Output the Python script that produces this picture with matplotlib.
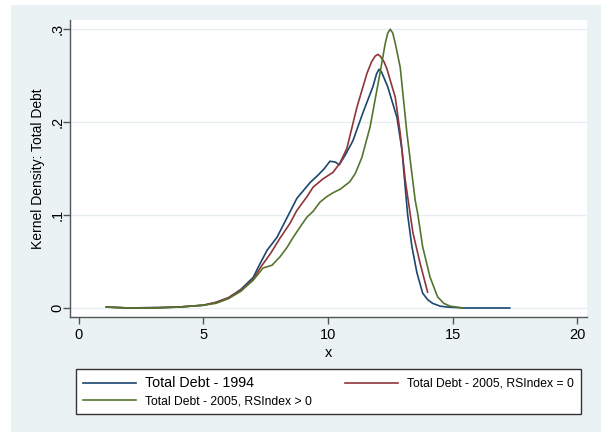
import numpy as np
import matplotlib.pyplot as plt
from matplotlib.patches import Rectangle

plt.rcParams['font.family'] = ['Liberation Sans', 'DejaVu Sans']

# kernel density estimates
x_1994 = [1.1, 2.0, 3.0, 4.0, 5.0, 5.5, 6.0, 6.5, 7.0, 7.2, 7.55, 7.95, 8.35, 8.75, 9.0,
          9.28, 9.6, 9.85, 10.08, 10.3, 10.45, 10.7, 11.0, 11.4, 11.8, 11.95, 12.05, 12.15,
          12.4, 12.77, 12.97, 13.1, 13.2, 13.37, 13.57, 13.8, 14.0, 14.2, 14.5, 14.8, 15.5,
          16.5, 17.3]
y_1994 = [0.001, 0.0, 0.0005, 0.001, 0.003, 0.006, 0.011, 0.02, 0.033, 0.044, 0.062, 0.076,
          0.097, 0.118, 0.126, 0.135, 0.143, 0.150, 0.158, 0.157, 0.154, 0.165, 0.18, 0.21,
          0.238, 0.252, 0.257, 0.254, 0.238, 0.205, 0.17, 0.13, 0.10, 0.066, 0.038, 0.016,
          0.009, 0.005, 0.002, 0.001, 0.0, 0.0, 0.0]

x_rs0 = [1.1, 2.0, 3.0, 4.0, 5.0, 5.5, 6.0, 6.5, 7.0, 7.3, 7.7, 8.07, 8.47, 8.75, 9.16, 9.4,
         9.8, 10.2, 10.48, 10.76, 11.16, 11.57, 11.75, 11.89, 12.0, 12.1, 12.25, 12.37, 12.5,
         12.7, 12.9, 13.1, 13.41, 13.7, 14.0]
y_rs0 = [0.001, 0.0, 0.0, 0.001, 0.003, 0.006, 0.011, 0.019, 0.031, 0.044, 0.059, 0.075,
         0.091, 0.105, 0.12, 0.13, 0.139, 0.146, 0.156, 0.172, 0.216, 0.253, 0.265, 0.271,
         0.273, 0.271, 0.265, 0.257, 0.245, 0.227, 0.188, 0.138, 0.081, 0.048, 0.017]

x_rspos = [1.1, 2.0, 3.0, 4.0, 5.0, 5.5, 6.0, 6.5, 7.0, 7.39, 7.75, 8.07, 8.35, 8.6, 8.9,
           9.16, 9.4, 9.68, 9.96, 10.2, 10.5, 10.88, 11.1, 11.36, 11.69, 12.09, 12.3, 12.4,
           12.5, 12.6, 12.7, 12.9, 13.17, 13.5, 13.6, 13.8, 14.1, 14.4, 14.65, 14.9, 15.4]
y_rspos = [0.001, 0.0, 0.0, 0.001, 0.003, 0.005, 0.01, 0.018, 0.03, 0.043, 0.046, 0.055,
           0.065, 0.076, 0.088, 0.098, 0.104, 0.114, 0.12, 0.124, 0.128, 0.136, 0.145, 0.162,
           0.195, 0.253, 0.285, 0.296, 0.300, 0.296, 0.285, 0.259, 0.188, 0.116, 0.102,
           0.066, 0.033, 0.012, 0.005, 0.002, 0.0]

labels = ["Total Debt - 1994", "Total Debt - 2005, RSIndex = 0", "Total Debt - 2005, RSIndex > 0"]
x_ticks = [0, 5, 10, 15, 20]
y_ticks = [0, 0.1, 0.2, 0.3]
y_ticklabels = ["0", ".1", ".2", ".3"]

navy = "#1a476f"
maroon = "#90353b"
forest = "#55752f"
bg = "#eaf2f3"

fig = plt.figure(figsize=(6.01, 4.32), dpi=100, facecolor=bg)
# white page margin on the left and top
fig.add_artist(Rectangle((0, 0), 11 / 601, 1, transform=fig.transFigure,
                         facecolor="white", edgecolor="none"))
fig.add_artist(Rectangle((0, 1 - 5 / 432), 1, 5 / 432, transform=fig.transFigure,
                         facecolor="white", edgecolor="none"))

ax = fig.add_axes([70 / 601, 1 - 317 / 432, 517 / 601, 297 / 432])
ax.set_facecolor("white")

l1, = ax.plot(x_1994, y_1994, color=navy, lw=1.2)
l2, = ax.plot(x_rs0, y_rs0, color=maroon, lw=1.2)
l3, = ax.plot(x_rspos, y_rspos, color=forest, lw=1.2)

ax.set_xlim(-0.36, 20.4)
ax.set_ylim(-0.0097, 0.31)
ax.set_xticks(x_ticks)
ax.set_yticks(y_ticks)
ax.set_yticklabels(y_ticklabels, rotation=90, va="center")
for s in ["top", "right"]:
    ax.spines[s].set_visible(False)
for s in ["left", "bottom"]:
    ax.spines[s].set_color("#555555")
    ax.spines[s].set_linewidth(1.0)
ax.tick_params(colors="#555555", labelcolor="black", labelsize=10.5, length=5, width=1.0)
ax.tick_params(axis="x", pad=3)
ax.tick_params(axis="y", pad=-0.8)
ax.grid(axis="y", color="#e6eef1", lw=1.0)
ax.set_axisbelow(True)

ax.set_xlabel("x", fontsize=10.5, labelpad=2.5)
ax.set_ylabel("Kernel Density: Total Debt", fontsize=10, labelpad=4)

leg = fig.legend([l1, l3, l2], [labels[0], labels[2], labels[1]], ncol=2, mode="expand",
                 bbox_to_anchor=(76 / 601, 1 - 414 / 432, 505 / 601, 47 / 432),
                 loc="lower left", fancybox=False, framealpha=1, edgecolor="#333333",
                 fontsize=8.7, handlelength=4.4, handletextpad=0.8, borderpad=0.55,
                 labelspacing=0.45, borderaxespad=0)
leg.get_frame().set_linewidth(1.0)
leg.get_texts()[0].set_fontsize(10.3)

fig.savefig("out.png", dpi=100)
